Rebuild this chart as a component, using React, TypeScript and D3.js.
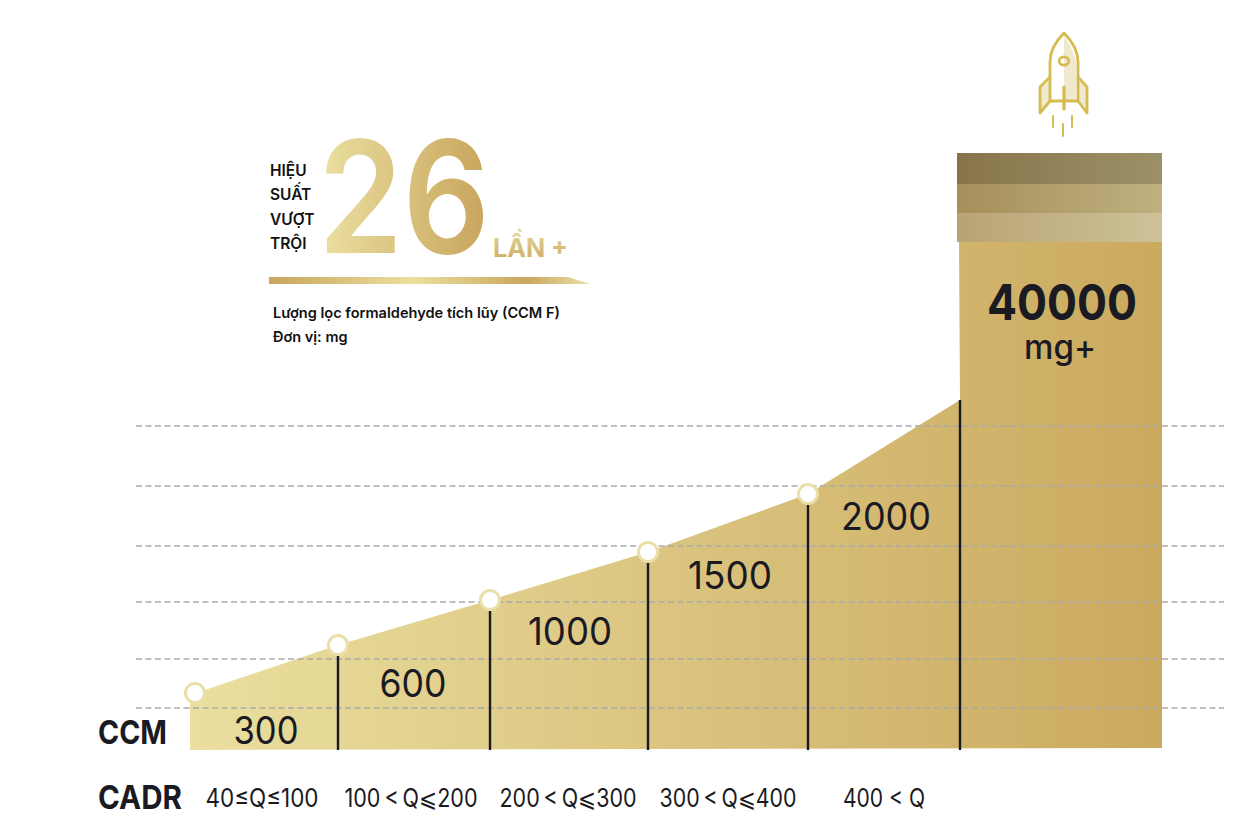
import React from "react";
import * as d3 from "d3";

const W = 1247, H = 836;
const categories = ["40≤Q≤100", "100\u2009<\u2009Q⩽200", "200\u2009<\u2009Q⩽300", "300\u2009<\u2009Q⩽400", "400 < Q"];
const ccmValues = [300, 600, 1000, 1500, 2000];
const ccmLabels = ["300", "600", "1000", "1500", "2000"];
const topValue = 2600;
const gridLevels = [190, 480, 880, 1330, 1850, 2350];
const boundaryIndex = [0, 1, 2, 3, 4, 5];

// piecewise scales
const x = d3.scaleLinear().domain(boundaryIndex).range([195, 338, 490, 648, 808, 960]);
const y = d3.scaleLinear().domain([0, 300, 600, 1000, 1500, 2000, 2600]).range([750, 693, 645, 600, 552, 494, 400]);
const gridY = d3.scaleLinear().domain(gridLevels).range([708, 659, 602, 546, 486, 426]);

const labelX = [266, 413, 570, 730, 886];
const labelY = [744, 697, 645, 589, 530];
const labelW = [65, 67, 84, 84, 90];
const catX = [262, 411, 568, 728, 884];
const catW = [113, 133, 137, 137, 82];

const INK = "#1a1a22";
const FONT = "Inter, 'Noto Sans', sans-serif";

export default function App() {
  const pts: [number, number][] = ccmValues.map((v, i) => [x(i), y(v)]);
  const top: [number, number] = [x(5), y(topValue)];
  const area = d3.line()([
    [190, 695], ...pts.slice(1), top, [959, 242], [1162, 242], [1162, 748], [190, 750],
  ] as [number, number][]) + "Z";

  return (
    <svg width={W} height={H} style={{ position: "absolute", left: 0, top: 0, background: "#fff" }} fontFamily={FONT}>
      <defs>
        <linearGradient id="fill" gradientUnits="userSpaceOnUse" x1="190" x2="1162" y1="0" y2="0">
          <stop offset="0" stopColor="#eadf9f" />
          <stop offset="1" stopColor="#cba95f" />
        </linearGradient>
        <linearGradient id="big" gradientUnits="userSpaceOnUse" x1="322" x2="486" y1="0" y2="0">
          <stop offset="0" stopColor="#ebdfa0" />
          <stop offset="1" stopColor="#c8a55c" />
        </linearGradient>
        <linearGradient id="lan" x1="0" x2="0" y1="0" y2="1">
          <stop offset="0" stopColor="#e6d89a" />
          <stop offset="1" stopColor="#cbaa62" />
        </linearGradient>
        <linearGradient id="bar" gradientUnits="userSpaceOnUse" x1="269" x2="590" y1="0" y2="0">
          <stop offset="0" stopColor="#c7a55c" />
          <stop offset="0.45" stopColor="#ecdf9f" />
          <stop offset="0.8" stopColor="#c9a75f" />
          <stop offset="1" stopColor="#eadfa8" />
        </linearGradient>
        <linearGradient id="b1"><stop offset="0" stopColor="#88744a" /><stop offset="1" stopColor="#9c9069" /></linearGradient>
        <linearGradient id="b2"><stop offset="0" stopColor="#a68f5a" /><stop offset="1" stopColor="#bfb180" /></linearGradient>
        <linearGradient id="b3"><stop offset="0" stopColor="#b9a375" /><stop offset="1" stopColor="#cdc298" /></linearGradient>
      </defs>

      <path d={area} fill="url(#fill)" />

      {gridLevels.map((g) => (
        <line key={g} x1={136} x2={1224} y1={gridY(g)} y2={gridY(g)} stroke="#ababab" strokeWidth={1.4} strokeDasharray="6 3.5" />
      ))}

      <rect x={957} y={153} width={205} height={31} fill="url(#b1)" />
      <rect x={957} y={184} width={205} height={29} fill="url(#b2)" />
      <rect x={957} y={213} width={205} height={29} fill="url(#b3)" />

      {boundaryIndex.slice(1).map((i) => (
        <line key={i} x1={x(i)} x2={x(i)} y1={i === 5 ? y(topValue) : y(ccmValues[i]) + 11} y2={750} stroke={INK} strokeWidth={2.4} />
      ))}
      {pts.map(([px, py], i) => (
        <circle key={i} cx={px} cy={py} r={9.5} fill="#fff" stroke="#ebdfa8" strokeWidth={3} />
      ))}

      {ccmLabels.map((t, i) => (
        <text key={t} x={labelX[i] - labelW[i] / 2} y={labelY[i]} fontSize={38} fill={INK} fontWeight={400} textLength={labelW[i]} lengthAdjust="spacingAndGlyphs">{t}</text>
      ))}
      <text x={987} y={320} fontSize={50} fontWeight={700} fill={INK} textLength={150} lengthAdjust="spacingAndGlyphs">40000</text>
      <text x={1024} y={359} fontSize={34} fontWeight={500} fill={INK} textLength={72} lengthAdjust="spacingAndGlyphs">mg+</text>

      <text x={98} y={744} fontSize={33} fontWeight={700} fill={INK} textLength={69} lengthAdjust="spacingAndGlyphs">CCM</text>
      <text x={98} y={809} fontSize={33} fontWeight={700} fill={INK} textLength={84} lengthAdjust="spacingAndGlyphs">CADR</text>
      {categories.map((c, i) => (
        <text key={c} x={catX[i] - catW[i] / 2} y={807} fontSize={25} fill={INK} textLength={catW[i]} lengthAdjust="spacingAndGlyphs">{c}</text>
      ))}

      {["HIỆU", "SUẤT", "VƯỢT", "TRỘI"].map((t, i) => (
        <text key={t} x={270} y={[176, 200, 225, 249][i]} fontSize={15.5} fontWeight={600} fill="#111">{t}</text>
      ))}
      <text x={318} y={253} fontSize={156} fontWeight={600} fill="url(#big)" textLength={172} lengthAdjust="spacingAndGlyphs">26</text>
      <text x={493} y={257} fontSize={25} fontWeight={700} fill="url(#lan)" textLength={75} lengthAdjust="spacingAndGlyphs">LẦN +</text>
      <path d="M269,277H568L590,284H269Z" fill="url(#bar)" />
      <text x={273} y={318} fontSize={14.5} fontWeight={600} fill="#111" textLength={287} lengthAdjust="spacingAndGlyphs">Lượng lọc formaldehyde tích lũy (CCM F)</text>
      <text x={273} y={342} fontSize={14.5} fontWeight={600} fill="#111">Đơn vị: mg</text>

      <path d="M1064,36 C1068,42 1074,50 1076,62 V100 H1064Z" fill="#e9dfb8" opacity={0.7} />
      <path d="M1041,88 L1049,80 V100 L1041,110Z" fill="#e9dfb8" opacity={0.7} />
      <path d="M1086,88 L1079,80 V100 L1086,110Z" fill="#e9dfb8" opacity={0.7} />
      <g fill="none" stroke="#d5bb50" strokeWidth={2.8} strokeLinecap="round" strokeLinejoin="round">
        <path d="M1064,33 C1056,41 1050,50 1050,62 V101 H1078 V62 C1078,50 1072,41 1064,33Z" />
        <ellipse cx={1064} cy={61} rx={4.8} ry={4.2} />
        <path d="M1064,87V109" strokeWidth={3.2} />
        <path d="M1050,77 L1040,87 V113 L1050,101" />
        <path d="M1078,77 L1087,87 V113 L1078,101" />
        <path d="M1053,116V127 M1063,124V136 M1072,116V127" strokeWidth={2} />
      </g>
    </svg>
  );
}
